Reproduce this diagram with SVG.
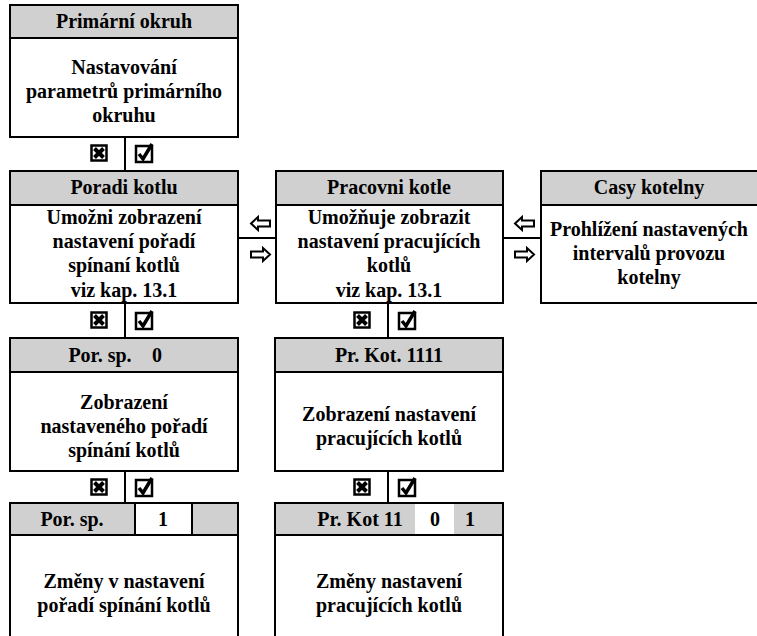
<svg xmlns="http://www.w3.org/2000/svg" width="757" height="636" viewBox="0 0 757 636">
<style>
.box{fill:#fff;stroke:#000;stroke-width:2}
.hdr{fill:#d0d0d0;stroke:#000;stroke-width:2}
.wh{fill:#fff;stroke:none}
.ln{stroke:#000;stroke-width:2;fill:none}
.t{font-weight:bold;font-size:20px;fill:#000;text-anchor:middle}
.arr{fill:#fff;stroke:#000;stroke-width:2;stroke-linejoin:miter}
</style>
<defs>
<g id="xbox">
<rect x="-7.5" y="-7.5" width="15" height="15" fill="#fff" stroke="#000" stroke-width="2.5"/>
<path d="M-4.5,-4.5 L4.5,4.5 M4.5,-4.5 L-4.5,4.5" stroke="#000" stroke-width="4"/>
</g>
<g id="cbox">
<rect x="-8" y="-7" width="16" height="16" fill="#fff" stroke="#000" stroke-width="2.5"/>
<path d="M-5,1 L-1,6 L8,-9" stroke="#000" stroke-width="3.5" fill="none"/>
</g>
<polygon id="la" class="arr" points="0,6.5 7,0 7,3.5 19,3.5 19,9.5 7,9.5 7,13"/>
<polygon id="ra" class="arr" points="19,6.5 12,0 12,3.5 0,3.5 0,9.5 12,9.5 12,13"/>
</defs>

<g id="connectors">
<line class="ln" x1="125" y1="137" x2="125" y2="171"/>
<use href="#xbox" x="99" y="153"/>
<use href="#cbox" x="144" y="153"/>
<line class="ln" x1="238" y1="238" x2="276" y2="238"/>
<use href="#la" x="251" y="217"/>
<use href="#ra" x="251" y="248"/>
<line class="ln" x1="503" y1="238" x2="541" y2="238"/>
<use href="#la" x="515" y="217"/>
<use href="#ra" x="515" y="248"/>
<line class="ln" x1="125" y1="303" x2="125" y2="338"/>
<use href="#xbox" x="99" y="320"/>
<use href="#cbox" x="144" y="320"/>
<line class="ln" x1="388" y1="303" x2="388" y2="338"/>
<use href="#xbox" x="362" y="320"/>
<use href="#cbox" x="407" y="320"/>
<line class="ln" x1="125" y1="471" x2="125" y2="503"/>
<use href="#xbox" x="99" y="487"/>
<use href="#cbox" x="144" y="487"/>
<line class="ln" x1="388" y1="471" x2="388" y2="503"/>
<use href="#xbox" x="362" y="487"/>
<use href="#cbox" x="407" y="487"/>
</g>

<g font-family="Liberation Serif, DejaVu Serif, serif">
<g id="primarni">
<rect class="box" x="10" y="5" width="228" height="132"/>
<rect class="hdr" x="10" y="5" width="228" height="33"/>
<text class="t" x="124" y="28">Primární okruh</text>
<text class="t" x="124" y="74">Nastavování</text>
<text class="t" x="124" y="98">parametrů primárního</text>
<text class="t" x="124" y="122">okruhu</text>
</g>

<g id="poradi">
<rect class="box" x="10" y="171" width="228" height="132"/>
<rect class="hdr" x="10" y="171" width="228" height="34"/>
<text class="t" x="124" y="194">Poradi kotlu</text>
<text class="t" x="124" y="224">Umožni zobrazení</text>
<text class="t" x="124" y="248">nastavení pořadí</text>
<text class="t" x="124" y="272">spínaní kotlů</text>
<text class="t" x="124" y="297">viz kap. 13.1</text>
</g>

<g id="pracovni">
<rect class="box" x="276" y="171" width="227" height="132"/>
<rect class="hdr" x="276" y="171" width="227" height="34"/>
<text class="t" x="389" y="194">Pracovni kotle</text>
<text class="t" x="389" y="224">Umožňuje zobrazit</text>
<text class="t" x="389" y="248">nastavení pracujících</text>
<text class="t" x="389" y="272">kotlů</text>
<text class="t" x="389" y="297">viz kap. 13.1</text>
</g>

<g id="casy">
<rect class="box" x="541" y="171" width="230" height="132"/>
<rect class="hdr" x="541" y="171" width="230" height="34"/>
<text class="t" x="649" y="194">Casy kotelny</text>
<text class="t" x="649" y="236">Prohlížení nastavených</text>
<text class="t" x="649" y="260">intervalů provozu</text>
<text class="t" x="649" y="284">kotelny</text>
</g>

<g id="porsp0">
<rect class="box" x="10" y="338" width="228" height="133"/>
<rect class="hdr" x="10" y="338" width="228" height="34"/>
<text class="t" x="100" y="362">Por. sp.</text>
<text class="t" x="157" y="362">0</text>
<text class="t" x="124" y="409">Zobrazení</text>
<text class="t" x="124" y="433">nastaveného pořadí</text>
<text class="t" x="124" y="457">spínání kotlů</text>
</g>

<g id="prkot1111">
<rect class="box" x="275" y="338" width="228" height="133"/>
<rect class="hdr" x="275" y="338" width="228" height="34"/>
<text class="t" x="389" y="362">Pr. Kot. 1111</text>
<text class="t" x="389" y="421">Zobrazení nastavení</text>
<text class="t" x="389" y="445">pracujících kotlů</text>
</g>

<g id="porsp1">
<rect class="box" x="10" y="503" width="228" height="140"/>
<rect class="hdr" x="10" y="503" width="228" height="32"/>
<rect x="135" y="503" width="57" height="32" fill="#fff" stroke="#000" stroke-width="2"/>
<text class="t" x="72" y="526">Por. sp.</text>
<text class="t" x="163" y="526">1</text>
<text class="t" x="124" y="588">Změny v nastavení</text>
<text class="t" x="124" y="612">pořadí spínání kotlů</text>
</g>

<g id="prkot11">
<rect class="box" x="275" y="503" width="228" height="140"/>
<rect class="hdr" x="275" y="503" width="228" height="32"/>
<rect class="wh" x="415" y="504" width="39" height="30"/>
<text class="t" x="360" y="526">Pr. Kot 11</text>
<text class="t" x="435" y="526">0</text>
<text class="t" x="470" y="526">1</text>
<text class="t" x="389" y="588">Změny nastavení</text>
<text class="t" x="389" y="612">pracujících kotlů</text>
</g>
</g>
</svg>
